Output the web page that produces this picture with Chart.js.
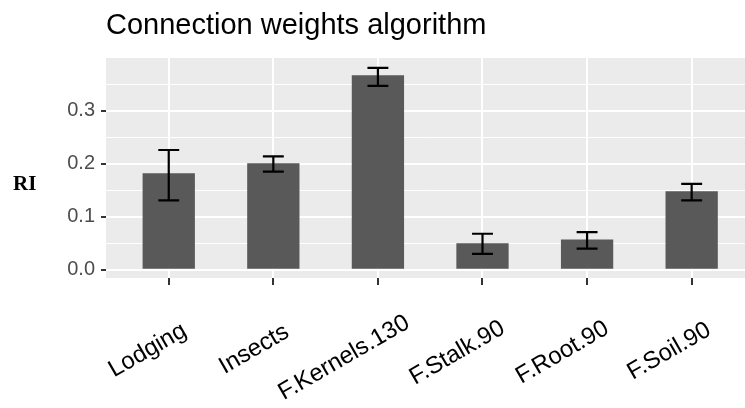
<!DOCTYPE html>
<html>
<head>
<meta charset="utf-8">
<script src="https://cdn.jsdelivr.net/npm/chart.js@4/dist/chart.umd.min.js"></script>
<style>
  html, body { margin: 0; padding: 0; background: #fff; }
  canvas { display: block; }
</style>
</head>
<body>
<canvas id="riChart" width="745" height="408"></canvas>
<script>
// Relative importance per input (connection weights), with error bars
const categories = ['Lodging', 'Insects', 'F.Kernels.130', 'F.Stalk.90', 'F.Root.90', 'F.Soil.90'];
const riMean = [0.182, 0.201, 0.367, 0.050, 0.057, 0.148];
const riLow  = [0.131, 0.185, 0.347, 0.030, 0.040, 0.131];
const riHigh = [0.226, 0.214, 0.381, 0.068, 0.071, 0.162];
const chartTitle = 'Connection weights algorithm';
const yLabel = 'RI';

const isMajor = v => Math.abs(v * 10 - Math.round(v * 10)) < 1e-6;

// grey panel behind the grid
const panelBg = {
  id: 'panelBg',
  beforeDraw(chart) {
    const { ctx, chartArea: a } = chart;
    ctx.save();
    ctx.fillStyle = '#ebebeb';
    ctx.fillRect(a.left, a.top, a.right - a.left, a.bottom - a.top);
    ctx.restore();
  },
};

// error bars drawn through the scales
const errorBars = {
  id: 'errorBars',
  afterDatasetsDraw(chart) {
    const { ctx, scales: { x, y } } = chart;
    ctx.save();
    ctx.strokeStyle = '#000';
    ctx.lineWidth = 2.2;
    riMean.forEach((_, i) => {
      const cx = x.getPixelForValue(i);
      const half = x.getPixelForValue(i + 0.1) - cx;
      const top = y.getPixelForValue(riHigh[i]);
      const bot = y.getPixelForValue(riLow[i]);
      ctx.beginPath();
      ctx.moveTo(cx, top); ctx.lineTo(cx, bot);
      ctx.moveTo(cx - half, top); ctx.lineTo(cx + half, top);
      ctx.moveTo(cx - half, bot); ctx.lineTo(cx + half, bot);
      ctx.stroke();
    });
    ctx.restore();
  },
};

// title, horizontal y label and the slanted category labels
const labels = {
  id: 'labels',
  afterDraw(chart) {
    const { ctx, chartArea: a, scales: { x } } = chart;
    ctx.save();
    ctx.fillStyle = '#000';
    ctx.textBaseline = 'alphabetic';
    ctx.textAlign = 'left';
    ctx.font = "29px 'Liberation Sans', Arial, sans-serif";
    ctx.fillText(chartTitle, a.left, 34);

    ctx.font = "bold 21px 'Liberation Serif', 'Times New Roman', serif";
    ctx.textBaseline = 'middle';
    ctx.fillText(yLabel, 13, (a.top + a.bottom) / 2 + 17);

    // labels at 30 degrees, anchored ~3/4 along the baseline
    ctx.font = "24px 'Liberation Sans', Arial, sans-serif";
    ctx.textBaseline = 'alphabetic';
    categories.forEach((name, i) => {
      const w = ctx.measureText(name).width;
      ctx.save();
      ctx.translate(x.getPixelForValue(i), a.bottom + 68);
      ctx.rotate(-Math.PI / 6);
      ctx.fillText(name, -0.74 * w, 0);
      ctx.restore();
    });
    ctx.restore();
  },
};

new Chart(document.getElementById('riChart'), {
  type: 'bar',
  data: {
    datasets: [{
      label: yLabel,
      data: riMean.map((v, i) => ({ x: i, y: v })),
      backgroundColor: '#595959',
      borderWidth: 0,
      barPercentage: 0.5,
      categoryPercentage: 1.0,
    }],
  },
  options: {
    responsive: false,
    animation: false,
    layout: { padding: { top: 58, left: 0, right: 0, bottom: 0 } },
    plugins: {
      legend: { display: false },
      tooltip: { enabled: false },
    },
    scales: {
      x: {
        type: 'linear',
        min: -0.6,
        max: 5.51,
        offset: false,
        border: { display: false },
        grid: {
          offset: false,
          color: '#ffffff',
          lineWidth: 2,
          tickColor: '#333333',
          tickLength: 7,
        },
        ticks: {
          display: false,
          stepSize: 1,
          includeBounds: false,
          autoSkip: false,
        },
        afterFit(scale) { scale.height = 130; },
      },
      y: {
        min: -0.0155,
        max: 0.3995,
        border: { display: false },
        grid: {
          color: '#ffffff',
          lineWidth: ctx => (ctx.tick && isMajor(ctx.tick.value) ? 2 : 1),
          tickColor: ctx => (ctx.tick && isMajor(ctx.tick.value) ? '#333333' : 'rgba(0,0,0,0)'),
          tickLength: 5,
        },
        ticks: {
          stepSize: 0.05,
          includeBounds: false,
          padding: 6,
          color: '#4d4d4d',
          font: { family: "'Liberation Sans', Arial, sans-serif", size: 20 },
          callback: v => (isMajor(v) ? v.toFixed(1) : ''),
        },
        afterFit(scale) { scale.width = 106; },
      },
    },
  },
  plugins: [panelBg, errorBars, labels],
});
</script>
</body>
</html>
